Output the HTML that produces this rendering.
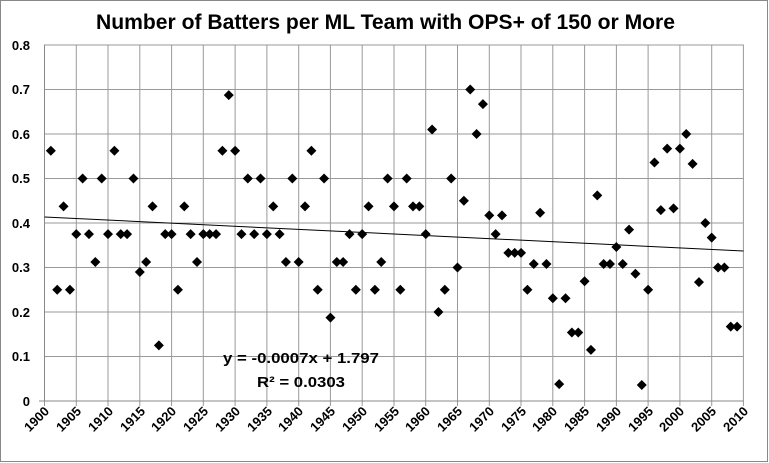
<!DOCTYPE html>
<html><head><meta charset="utf-8"><style>
body{margin:0;background:#fff}
svg{display:block;font-family:"Liberation Sans",Arial,sans-serif}
</style></head><body>
<svg id="s" width="769" height="463" viewBox="0 0 769 463" xmlns="http://www.w3.org/2000/svg">
<rect x="0.5" y="0.5" width="767" height="461" fill="#fff" stroke="#888"/>
<text x="96" y="29" textLength="579" lengthAdjust="spacingAndGlyphs" font-size="21" font-weight="bold" fill="#000">Number of Batters per ML Team with OPS+ of 150 or More</text>
<g id="grid"></g>
<g font-size="13" font-weight="bold" text-anchor="end" fill="#000">
<text x="30" y="50">0.8</text><text x="30" y="94">0.7</text><text x="30" y="139">0.6</text><text x="30" y="183">0.5</text><text x="30" y="228">0.4</text><text x="30" y="272">0.3</text><text x="30" y="317">0.2</text><text x="30" y="361">0.1</text><text x="30" y="406">0</text>
</g>
<g font-size="13" font-weight="bold" text-anchor="end" fill="#000">
<text transform="translate(50,412) rotate(-45)">1900</text>
<text transform="translate(82,412) rotate(-45)">1905</text>
<text transform="translate(114,412) rotate(-45)">1910</text>
<text transform="translate(146,412) rotate(-45)">1915</text>
<text transform="translate(177,412) rotate(-45)">1920</text>
<text transform="translate(209,412) rotate(-45)">1925</text>
<text transform="translate(241,412) rotate(-45)">1930</text>
<text transform="translate(273,412) rotate(-45)">1935</text>
<text transform="translate(304,412) rotate(-45)">1940</text>
<text transform="translate(336,412) rotate(-45)">1945</text>
<text transform="translate(368,412) rotate(-45)">1950</text>
<text transform="translate(400,412) rotate(-45)">1955</text>
<text transform="translate(431,412) rotate(-45)">1960</text>
<text transform="translate(463,412) rotate(-45)">1965</text>
<text transform="translate(495,412) rotate(-45)">1970</text>
<text transform="translate(527,412) rotate(-45)">1975</text>
<text transform="translate(558,412) rotate(-45)">1980</text>
<text transform="translate(590,412) rotate(-45)">1985</text>
<text transform="translate(622,412) rotate(-45)">1990</text>
<text transform="translate(654,412) rotate(-45)">1995</text>
<text transform="translate(685,412) rotate(-45)">2000</text>
<text transform="translate(717,412) rotate(-45)">2005</text>
<text transform="translate(749,412) rotate(-45)">2010</text>
</g>
<line x1="44.5" y1="217" x2="743.5" y2="251" stroke="#000" stroke-width="1"/>
<g id="pts"></g>
<g font-size="15" font-weight="bold" fill="#000">
<text x="223" y="363" textLength="156" lengthAdjust="spacingAndGlyphs">y = -0.0007x + 1.797</text>
<text x="257" y="387" textLength="88" lengthAdjust="spacingAndGlyphs">R² = 0.0303</text>
</g>
</svg>
<script>
function X(y){return 44.5+(y-1900)*6.354}
function Y(v){return 401-v*445}
var g=document.getElementById("grid"),h="";
for(var i=0;i<=22;i++){var x=X(1900+i*5).toFixed(1);h+='<line x1="'+x+'" y1="44.5" x2="'+x+'" y2="406" stroke="#999"/>';}
for(var j=0;j<=8;j++){var y=(401-j*44.5).toFixed(1);h+='<line x1="44.5" y1="'+y+'" x2="743.5" y2="'+y+'" stroke="#999"/>';}
h+='<line x1="39" y1="401" x2="743.5" y2="401" stroke="#888"/><line x1="44.5" y1="44.5" x2="44.5" y2="401" stroke="#888"/>';
g.innerHTML=h;
var d=[.5625,.25,.4375,.25,.375,.5,.375,.3125,.5,.375,.5625,.375,.375,.5,.29,.3125,.4375,.125,.375,.375,.25,.4375,.375,.3125,.375,.375,.375,.5625,.6875,.5625,.375,.5,.375,.5,.375,.4375,.375,.3125,.5,.3125,.4375,.5625,.25,.5,.1875,.3125,.3125,.375,.25,.375,.4375,.25,.3125,.5,.4375,.25,.5,.4375,.4375,.375,.61,.2,.25,.5,.3,.45,.7,.6,.667,.417,.375,.417,.333,.333,.333,.25,.308,.423,.308,.231,.038,.231,.154,.154,.269,.115,.462,.308,.308,.346,.308,.385,.286,.036,.25,.536,.429,.567,.433,.567,.6,.533,.267,.4,.367,.3,.3,.167,.167];
var p="";
for(var k=0;k<d.length;k++){var cx=X(1901+k),cy=Y(d[k]);p+='<path d="M'+cx+' '+(cy-5)+'L'+(cx+5)+' '+cy+'L'+cx+' '+(cy+5)+'L'+(cx-5)+' '+cy+'Z" fill="#000"/>';}
document.getElementById("pts").innerHTML=p;
</script>
</body></html>
